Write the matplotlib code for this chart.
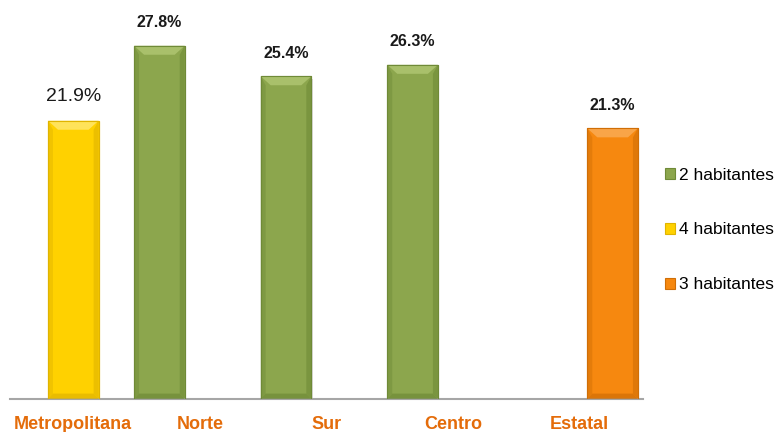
import matplotlib.pyplot as plt
from matplotlib.patches import Polygon, Rectangle
import numpy as np

# datos
regiones = ["Metropolitana", "Norte", "Sur", "Centro", "Estatal"]
series = ["2 habitantes", "4 habitantes", "3 habitantes"]
valores = {
    "2 habitantes": [None, 27.8, 25.4, 26.3, None],
    "4 habitantes": [21.9, None, None, None, None],
    "3 habitantes": [None, None, None, None, 21.3],
}
colores = {"2 habitantes": "#8CA64D", "4 habitantes": "#FFD100", "3 habitantes": "#F6880F"}
claros = {"2 habitantes": "#A9C06B", "4 habitantes": "#FFE35A", "3 habitantes": "#F9A548"}
oscuros = {"2 habitantes": "#6F8A37", "4 habitantes": "#E0B400", "3 habitantes": "#D06E06"}
desplaz = {"2 habitantes": -0.32, "4 habitantes": 0.0, "3 habitantes": 0.26}

plt.rcParams["font.family"] = ["Liberation Sans", "DejaVu Sans"]

fig = plt.figure(figsize=(7.77, 4.32), dpi=100)
ax = fig.add_axes([10 / 777, 1 - 399 / 432, 633 / 777, 399 / 432])
ax.set_xlim(-0.5, 4.5)
ax.set_ylim(0, 31.4)

ancho = 0.40
px_x = 5 / 126.6   # bisel horizontal en datos
px_y = 9 / 12.7    # bisel vertical en datos
x = np.arange(len(regiones))

for s in series:
    for i, v in enumerate(valores[s]):
        if v is None:
            continue
        xc = x[i] + desplaz[s]
        # sombra
        ax.add_patch(Rectangle((xc - ancho / 2 + 0.012, -0.2), ancho, v, color="#999999",
                               alpha=0.35, lw=0, zorder=1))
        b = ax.bar(xc, v, ancho, color=colores[s], edgecolor=oscuros[s], lw=0.8, zorder=2)[0]
        x0, x1 = b.get_x(), b.get_x() + b.get_width()
        # bisel superior
        ax.add_patch(Polygon([(x0, v), (x1, v), (x1 - px_x * 2, v - px_y), (x0 + px_x * 2, v - px_y)],
                             closed=True, color=claros[s], lw=0, zorder=3))
        # laterales
        ax.add_patch(Polygon([(x0, v), (x0 + px_x, v - px_y), (x0 + px_x, px_y * 0.6), (x0, 0)],
                             closed=True, color=oscuros[s], alpha=0.45, lw=0, zorder=3))
        ax.add_patch(Polygon([(x1, v), (x1 - px_x, v - px_y), (x1 - px_x, px_y * 0.6), (x1, 0)],
                             closed=True, color=oscuros[s], alpha=0.6, lw=0, zorder=3))
        # bisel inferior
        ax.add_patch(Polygon([(x0, 0), (x1, 0), (x1 - px_x, px_y * 0.6), (x0 + px_x, px_y * 0.6)],
                             closed=True, color=oscuros[s], alpha=0.7, lw=0, zorder=3))
        ax.add_patch(Rectangle((x0, 0), ancho, v, fill=False, ec=oscuros[s], lw=0.8, zorder=4))
        # etiqueta
        if s == "4 habitantes":
            ax.text(xc, v + 1.9, f"{v}%", ha="center", va="center", fontsize=14,
                    color="#1a1a1a")
        else:
            ax.text(xc, v + 1.8, f"{v}%", ha="center", va="center", fontsize=11.5,
                    fontweight="bold", color="#1a1a1a")

ax.set_xticks(x)
ax.set_xticklabels(regiones, fontweight="bold", fontsize=13, color="#E46C0A")
ax.tick_params(axis="x", length=0, pad=12)
ax.set_yticks([])
for lado in ["top", "right", "left"]:
    ax.spines[lado].set_visible(False)
ax.spines["bottom"].set_color("#A6A6A6")
ax.spines["bottom"].set_linewidth(1.5)

# leyenda
manijas = [Rectangle((0, 0), 1, 1, fc=colores[s], ec=oscuros[s], lw=0.8) for s in series]
fig.legend(manijas, series, loc="center left", bbox_to_anchor=(656 / 777, 1 - 230 / 432),
           frameon=False, fontsize=12.5, handlelength=0.6, handleheight=0.6,
           handletextpad=0.2, labelspacing=2.3, borderpad=0)

fig.savefig("out.png", dpi=100)
